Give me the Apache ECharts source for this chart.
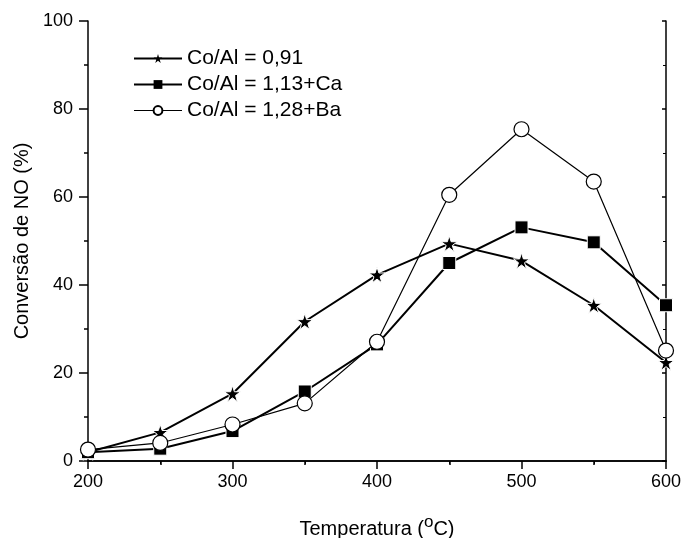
<!DOCTYPE html>
<html><head><meta charset="utf-8">
<script src="https://cdn.jsdelivr.net/npm/echarts@6/dist/echarts.min.js"></script>
<style>html,body{margin:0;padding:0;background:#fff}#c{width:682px;height:538px}</style>
</head><body><div id="c"></div>
<script>
const temps = [200, 250, 300, 350, 400, 450, 500, 550, 600];
const coAl091 = [2.0, 6.5, 15.3, 31.7, 42.3, 49.4, 45.5, 35.4, 22.4];
const coAl113Ca = [2.0, 2.8, 6.8, 15.8, 26.5, 45.0, 53.1, 49.7, 35.4];
const coAl128Ba = [2.6, 4.1, 8.3, 13.1, 27.1, 60.5, 75.4, 63.5, 25.1];
const seriesNames = ['Co/Al = 0,91', 'Co/Al = 1,13+Ca', 'Co/Al = 1,28+Ba'];
const starPath = 'path://M50,0 L61.2,34.5 L97.6,34.5 L68.2,55.9 L79.4,90.5 L50,69.1 L20.6,90.5 L31.8,55.9 L2.4,34.5 L38.8,34.5 Z';

const pairs = arr => temps.map((t, i) => [t, arr[i]]);
const font = 'Liberation Sans, Arial, sans-serif';

const chart = echarts.init(document.getElementById('c'));
chart.setOption({
  animation: false,
  backgroundColor: '#fff',
  grid: { left: 88, right: 16, top: 21, bottom: 77, outerBoundsMode: 'none', containLabel: false },
  legend: {
    left: 133, top: 48, orient: 'vertical', itemGap: 5, padding: 0,
    itemWidth: 48, itemHeight: 11,
    textStyle: { fontFamily: font, fontSize: 21, color: '#000' },
    data: [
      { name: seriesNames[0], itemStyle: { borderWidth: 0 } },
      { name: seriesNames[1], itemStyle: { borderWidth: 0 } },
      { name: seriesNames[2], lineStyle: { width: 1 } }
    ]
  },
  xAxis: [{
    type: 'value', min: 200, max: 600, interval: 100,
    name: 'Temperatura ({sup|o}C)', nameLocation: 'middle', nameGap: 53,
    nameTextStyle: { fontFamily: font, fontSize: 20, color: '#000',
      rich: { sup: { fontFamily: font, fontSize: 17, color: '#000', verticalAlign: 'top', padding: [0, 0, 13, 0] } } },
    axisLine: { lineStyle: { color: '#000', width: 1.5 } },
    axisTick: { inside: false, length: 8, lineStyle: { color: '#000', width: 1.5 } },
    minorTick: { show: true, splitNumber: 2, length: 4, lineStyle: { color: '#000', width: 1.5 } },
    axisLabel: { fontFamily: font, fontSize: 18, color: '#000', margin: 12 },
    splitLine: { show: false }
  }, {
    type: 'value', min: 200, max: 600, interval: 100, position: 'top',
    axisLine: { lineStyle: { color: '#000', width: 1.5 } },
    axisTick: { inside: true, length: 4, lineStyle: { color: '#000', width: 1.5 } },
    minorTick: { show: true, splitNumber: 2, length: 3, lineStyle: { color: '#000' } },
    axisLabel: { show: false }, splitLine: { show: false }
  }],
  yAxis: [{
    type: 'value', min: 0, max: 100, interval: 20,
    name: 'Conversão de NO (%)', nameLocation: 'middle', nameGap: 52,
    nameTextStyle: { fontFamily: font, fontSize: 20, color: '#000' },
    axisLine: { show: true, lineStyle: { color: '#000', width: 1.5 } },
    axisTick: { show: true, inside: false, length: 9, lineStyle: { color: '#000', width: 1.5 } },
    minorTick: { show: true, splitNumber: 2, length: 4, lineStyle: { color: '#000', width: 1.5 } },
    axisLabel: { fontFamily: font, fontSize: 18, color: '#000', margin: 15 },
    splitLine: { show: false }
  }, {
    type: 'value', min: 0, max: 100, interval: 20, position: 'right',
    axisLine: { show: true, lineStyle: { color: '#000', width: 1.5 } },
    axisTick: { show: true, inside: true, length: 4, lineStyle: { color: '#000', width: 1.5 } },
    minorTick: { show: true, splitNumber: 2, length: 3, lineStyle: { color: '#000' } },
    axisLabel: { show: false }, splitLine: { show: false }
  }],
  series: [{
    name: seriesNames[0], type: 'line', data: pairs(coAl091),
    symbol: starPath, symbolSize: 16, z: 3,
    lineStyle: { color: '#000', width: 2 },
    itemStyle: { color: '#000', borderColor: '#fff', borderWidth: 1 }
  }, {
    name: seriesNames[1], type: 'line', data: pairs(coAl113Ca),
    symbol: 'rect', symbolSize: 13, z: 4,
    lineStyle: { color: '#000', width: 2 },
    itemStyle: { color: '#000', borderColor: '#fff', borderWidth: 1 }
  }, {
    name: seriesNames[2], type: 'line', data: pairs(coAl128Ba),
    symbol: 'circle', symbolSize: 15, z: 5,
    lineStyle: { color: '#000', width: 1.2 },
    itemStyle: { color: '#fff', borderColor: '#000', borderWidth: 1.2 }
  }]
});
</script></body></html>
